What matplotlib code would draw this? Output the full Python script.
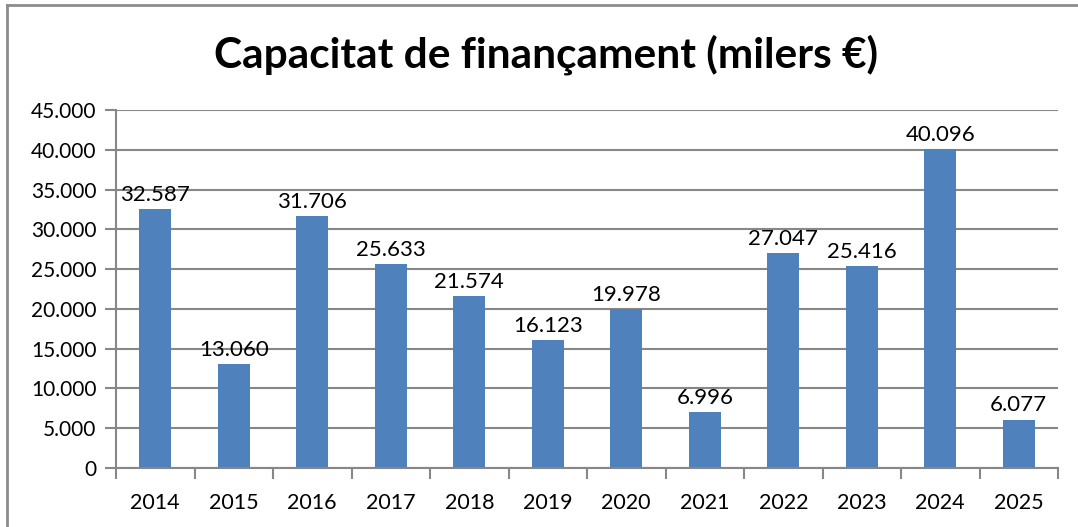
#!/usr/bin/env python3
"""Capacitat de finançament bar chart (milers €)."""

import matplotlib
matplotlib.use("Agg")
import matplotlib.pyplot as plt
from matplotlib.lines import Line2D

# Data
years = ["2014", "2015", "2016", "2017", "2018", "2019",
         "2020", "2021", "2022", "2023", "2024", "2025"]
values = [32587, 13060, 31706, 25633, 21574, 16123,
          19978, 6996, 27047, 25416, 40096, 6077]
y_ticks = [0, 5000, 10000, 15000, 20000, 25000, 30000, 35000, 40000, 45000]

TITLE = "Capacitat de finançament (milers €)"
BAR_COLOR = "#4F81BD"
GRID_COLOR = "#878787"


def fmt(v):
    """Catalan thousands separator"""
    return f"{v:,}".replace(",", ".")


def main():
    plt.rcParams["font.family"] = ["Lato", "DejaVu Sans"]

    fig = plt.figure(figsize=(10.78, 5.27), dpi=100)
    ax = fig.add_axes([116 / 1078, 1 - 468 / 527, (1058 - 116) / 1078, (468 - 110) / 527])

    x = list(range(len(years)))
    ax.bar(x, values, width=0.41, color=BAR_COLOR, zorder=2)

    for xi, v in zip(x, values):
        ax.annotate(fmt(v), (xi, v), xytext=(0, 3), textcoords="offset points",
                    ha="center", va="bottom", fontsize=16, color="black", zorder=3)

    ax.set_xlim(-0.5, len(years) - 0.5)
    ax.set_ylim(0, 45000)
    ax.set_yticks(y_ticks)
    ax.set_yticklabels([fmt(t) for t in y_ticks])
    ax.set_xticks(x)
    ax.set_xticklabels(years)
    # ticks at category boundaries
    ax.set_xticks([i - 0.5 for i in range(len(years) + 1)], minor=True)
    ax.tick_params(axis="x", which="major", length=0, pad=18, labelsize=15.5)
    ax.tick_params(axis="x", which="minor", length=8, width=1.5, color=GRID_COLOR)
    ax.tick_params(axis="y", length=8, width=1.5, color=GRID_COLOR, labelsize=15, pad=6)

    ax.yaxis.grid(True, color=GRID_COLOR, linewidth=1.5, zorder=0)
    ax.set_axisbelow(True)
    for side in ("top", "right"):
        ax.spines[side].set_visible(False)
    for side in ("left", "bottom"):
        ax.spines[side].set_color(GRID_COLOR)
        ax.spines[side].set_linewidth(1.5)

    fig.text(546 / 1078, 1 - 55 / 527, TITLE, ha="center", va="center",
             fontsize=30.5, fontweight="bold")

    # chart frame (right and bottom edges fall outside the image)
    fig.add_artist(Line2D([6.5 / 1078, 6.5 / 1078], [0, 1 - 5 / 527],
                          transform=fig.transFigure, color="#8c8c8c", linewidth=2))
    fig.add_artist(Line2D([6.5 / 1078, 1], [1 - 5 / 527, 1 - 5 / 527],
                          transform=fig.transFigure, color="#8c8c8c", linewidth=2))

    fig.savefig("out.png", dpi=100)
    plt.close(fig)


if __name__ == "__main__":
    main()
